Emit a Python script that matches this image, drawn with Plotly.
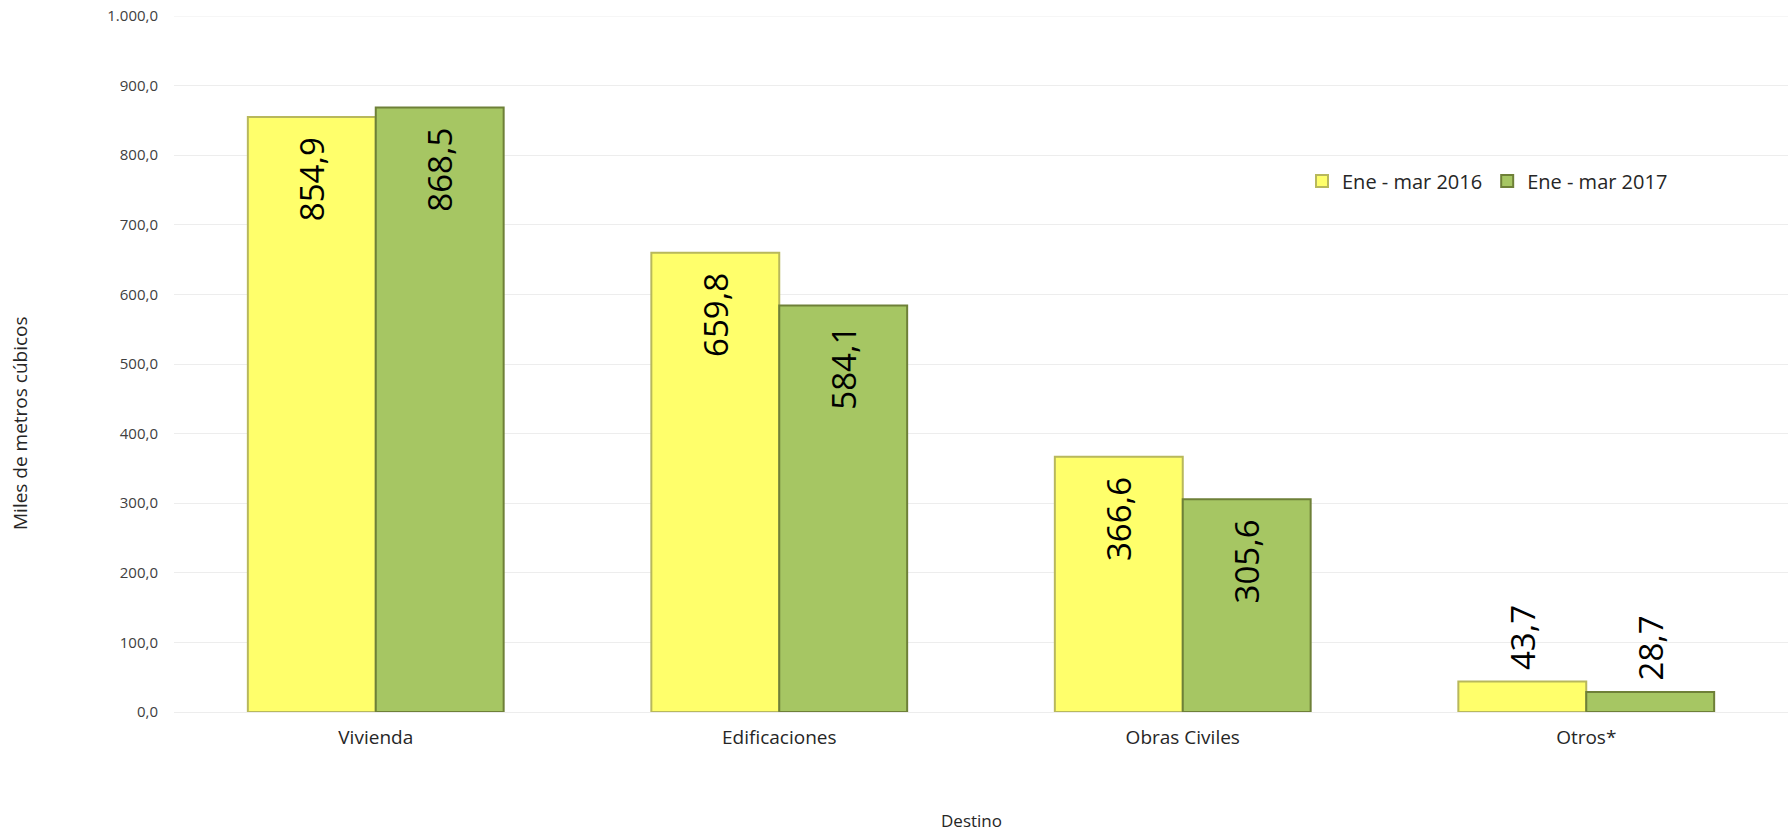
import plotly.graph_objects as go

categories = ["Vivienda", "Edificaciones", "Obras Civiles", "Otros*"]
series_2016 = [854.9, 659.8, 366.6, 43.7]
series_2017 = [868.5, 584.1, 305.6, 28.7]
series_names = ["Ene - mar 2016", "Ene - mar 2017"]
y_ticks = [0, 100, 200, 300, 400, 500, 600, 700, 800, 900, 1000]
label_positions = ["inside", "inside", "inside", "outside"]

NB = "\u00a0"
label_templates = ["%{y:.1f}" + NB * 2, "%{y:.1f}" + NB * 2, "%{y:.1f}" + NB * 2, NB + "%{y:.1f}"]

W, H = 1792, 833
PL, PR, PT, PB = 174, 1788, 16, 712  # plot area in page coordinates
L, R, T, B = PL, W - PR, PT, H - PB
PW, PH = PR - PL, PB - PT


def px(xp):
    return (xp - PL) / PW


def py(yp):
    return (PB - yp) / PH


fig = go.Figure()
styles = [
    dict(fill="#FFFF6B", line="#B8B85C"),
    dict(fill="#A6C663", line="#6E8038"),
]
for name, vals, st in zip(series_names, [series_2016, series_2017], styles):
    fig.add_trace(go.Bar(
        name=name, x=categories, y=vals,
        marker=dict(color=st["fill"], line=dict(color=st["line"], width=2)),
        texttemplate=label_templates,
        textposition=label_positions,
        insidetextanchor="end",
        textangle=-90,
        textfont=dict(family="Open Sans", size=33, color="#000000"),
        cliponaxis=False,
    ))

fig.update_layout(
    width=W, height=H,
    margin=dict(l=L, r=R, t=T, b=B, autoexpand=False),
    paper_bgcolor="white", plot_bgcolor="white",
    separators=",.",
    barmode="group", bargap=0.366, bargroupgap=0,
    font=dict(family="Open Sans", color="#404040"),
    showlegend=True,
    legend=dict(
        orientation="h", x=px(1302), y=py(181),
        xanchor="left", yanchor="middle",
        font=dict(family="Open Sans", size=20, color="#262626"),
        bgcolor="rgba(0,0,0,0)", itemwidth=30,
    ),
    xaxis=dict(
        showgrid=False, showline=False, ticks="",
        tickfont=dict(family="Open Sans", size=19, color="#262626"),
        ticklabelstandoff=12, automargin=False,
    ),
    yaxis=dict(
        range=[0, 1000], tickvals=y_ticks, tickformat=",.1f",
        showgrid=True, gridcolor="#EDEDED", gridwidth=1,
        zeroline=True, zerolinecolor="#EDEDED", zerolinewidth=1,
        showline=False, ticks="",
        tickfont=dict(family="Open Sans", size=15, color="#404040"),
        ticklabelstandoff=15,
        ticklabeloverflow="allow",
        automargin=False,
    ),
    shapes=[
        dict(type="line", xref="paper", yref="y", x0=0, x1=1, y0=y_ticks[-1], y1=y_ticks[-1],
             line=dict(color="#EDEDED", width=1), layer="below"),
    ],
    annotations=[
        dict(text="Miles de metros cúbicos", textangle=-90, xref="paper", yref="paper",
             x=px(20), y=py(423),
             showarrow=False, xanchor="center", yanchor="middle",
             font=dict(family="Open Sans", size=19, color="#262626")),
        dict(text="Destino", xref="paper", yref="paper",
             x=px(971), y=py(820),
             showarrow=False, xanchor="center", yanchor="middle",
             font=dict(family="Open Sans", size=17, color="#262626")),
    ],
)

fig.write_html(
    "out.html",
    config={"displayModeBar": False},
    post_script="document.body.style.margin='0';document.body.style.overflow='hidden';",
)
